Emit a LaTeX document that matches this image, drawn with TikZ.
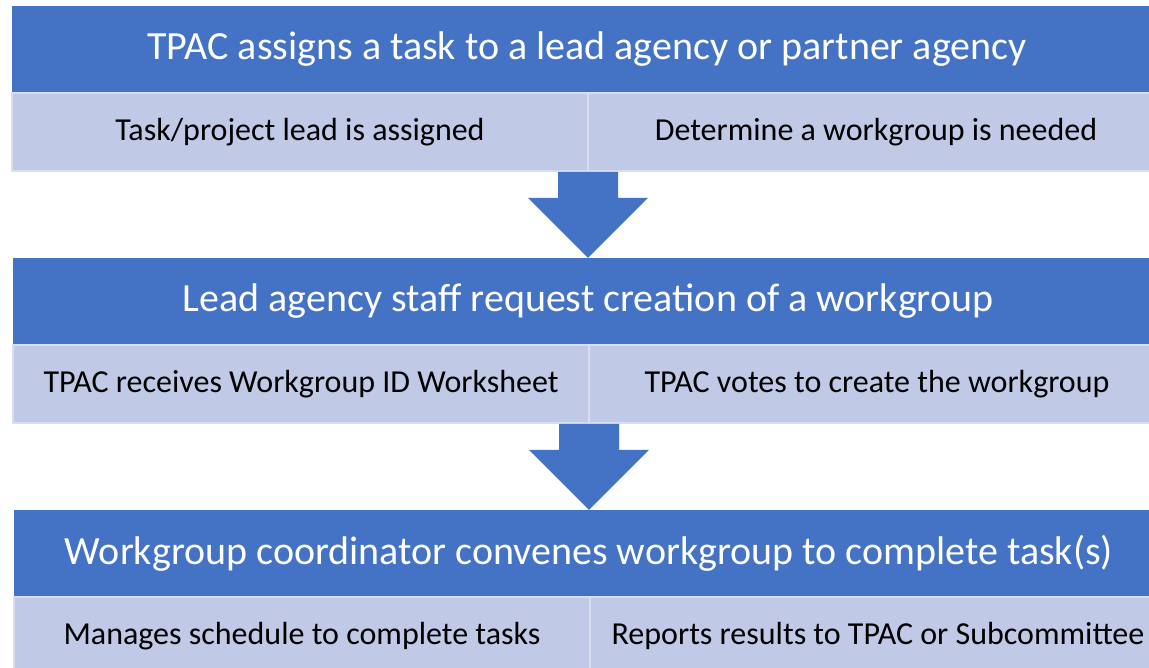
\documentclass[tikz,border=0pt]{standalone}
\usepackage{fontspec}
\setmainfont{Carlito}
\usetikzlibrary{positioning,calc}
\definecolor{flowblue}{RGB}{68,114,196}
\definecolor{flowcell}{RGB}{192,201,230}
\definecolor{flowline}{RGB}{216,222,240}
\tikzset{
    flow header/.style={
        rectangle,
        minimum width=1150pt,
        minimum height=86pt,
        fill=flowblue,
        draw=none,
        inner sep=0pt,
        outer sep=0pt,
        text=white,
        font=\fontsize{40}{46}\selectfont,
    },
    flow cell/.style={
        rectangle,
        minimum width=576pt,
        minimum height=78pt,
        fill=flowcell,
        draw=flowline,
        line width=1.2pt,
        inner sep=0pt,
        outer sep=0pt,
        text=black,
        font=\fontsize{32}{38}\selectfont,
    }
}

\begin{document}
\begin{tikzpicture}[x=1pt,y=1pt]

\clip (0,0) rectangle (1149,668);
\fill[white] (0,0) rectangle (1149,668);

%Step 1
\node[flow header] (hdr1) at (587,619) {TPAC assigns a task to a lead agency or partner agency};
\node[flow cell, below right=1pt and 0pt of hdr1.south west] (left1) {Task/project lead is assigned};
\node[flow cell, right=0pt of left1] (right1) {Determine a workgroup is needed};

%Step 2
\node[flow header, below=87pt of left1.south east] (hdr2) {Lead agency staff request creation of a workgroup};
\node[flow cell, below right=1pt and 0pt of hdr2.south west] (left2) {TPAC receives Workgroup ID Worksheet};
\node[flow cell, right=0pt of left2] (right2) {TPAC votes to create the workgroup};

%Step 3
\node[flow header, below=87pt of left2.south east] (hdr3) {Workgroup coordinator convenes workgroup to complete task(s)};
\node[flow cell, below right=1pt and 0pt of hdr3.south west] (left3) {Manages schedule to complete tasks};
\node[flow cell, right=0pt of left3] (right3) {Reports results to TPAC or Subcommittee};

%Block arrows between the steps
\fill[flowblue] ($(left1.south east)+(-30,-1)$) -- ++(60,0) -- ++(0,-26) -- ++(30,0)
    -- (hdr2.north) -- ($(left1.south east)+(-60,-27)$) -- ++(30,0) -- cycle;
\fill[flowblue] ($(left2.south east)+(-30,-1)$) -- ++(60,0) -- ++(0,-26) -- ++(30,0)
    -- (hdr3.north) -- ($(left2.south east)+(-60,-27)$) -- ++(30,0) -- cycle;

\end{tikzpicture}
\end{document}
